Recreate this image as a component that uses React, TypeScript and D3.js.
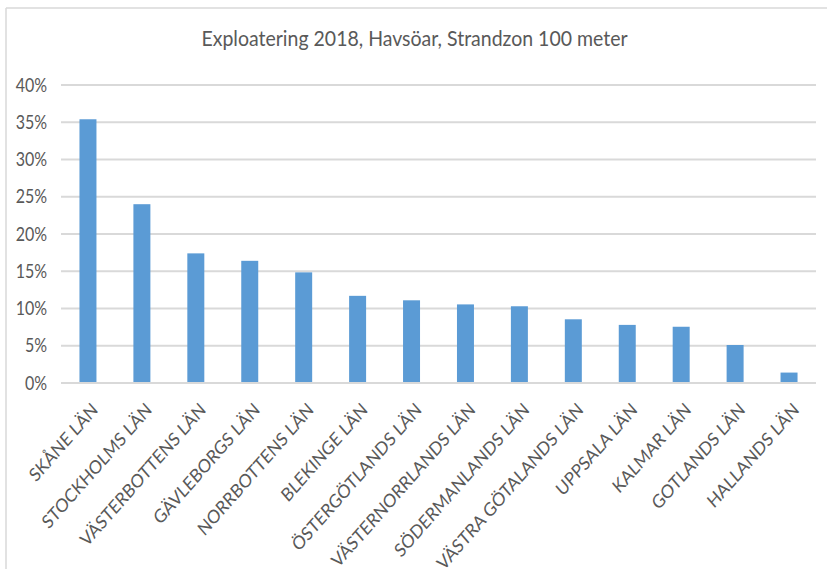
import React from "react";
import * as d3 from "d3";

const categories = [
  "SKÅNE LÄN",
  "STOCKHOLMS LÄN",
  "VÄSTERBOTTENS LÄN",
  "GÄVLEBORGS LÄN",
  "NORRBOTTENS LÄN",
  "BLEKINGE LÄN",
  "ÖSTERGÖTLANDS LÄN",
  "VÄSTERNORRLANDS LÄN",
  "SÖDERMANLANDS LÄN",
  "VÄSTRA GÖTALANDS LÄN",
  "UPPSALA LÄN",
  "KALMAR LÄN",
  "GOTLANDS LÄN",
  "HALLANDS LÄN",
];
const values = [35.4, 24.0, 17.4, 16.4, 14.85, 11.7, 11.1, 10.55, 10.3, 8.55, 7.8, 7.55, 5.1, 1.4];
const yTicks = [0, 5, 10, 15, 20, 25, 30, 35, 40];
const title = "Exploatering 2018, Havsöar, Strandzon 100 meter";

const W = 827;
const H = 569;
const FONT = "Lato, 'Open Sans', sans-serif";
const TEXT = "#595959";
const GRID = "#d9d9d9";
const BAR = "#5b9bd5";
const STRETCH = 1.14;

export default function App() {
  const plotLeft = 61;
  const plotRight = 816;
  const y0 = 383;
  const yTop = 85;
  const x = d3
    .scaleBand<string>()
    .domain(categories)
    .range([plotLeft, plotRight])
    .paddingInner(0.685)
    .paddingOuter(0.3425);
  const y = d3.scaleLinear().domain([0, 40]).range([y0, yTop]);

  return (
    <svg
      width={W}
      height={H}
      style={{ position: "absolute", left: 0, top: 0, background: "#fff" }}
    >
      <rect x={0} y={0} width={W} height={H} fill="#fff" />
      <line x1={6} y1={8} x2={W} y2={8} stroke={GRID} strokeWidth={1.5} />
      <line x1={6} y1={8} x2={6} y2={H} stroke={GRID} strokeWidth={1.5} />
      <text
        transform={`translate(414.5,46) scale(1,1.05)`}
        textAnchor="middle"
        fontFamily={FONT}
        fontSize={19.5}
        fill={TEXT}
      >
        {title}
      </text>
      {yTicks.map((t) => (
        <g key={t}>
          <line
            x1={plotLeft}
            x2={plotRight}
            y1={y(t)}
            y2={y(t)}
            stroke={GRID}
            strokeWidth={2}
          />
          <text
            transform={`translate(47,${y(t)}) scale(1,${STRETCH})`}
            dy="0.36em"
            textAnchor="end"
            fontFamily={FONT}
            fontSize={16}
            fill={TEXT}
          >
            {t}%
          </text>
        </g>
      ))}
      {categories.map((c, i) => (
        <rect
          key={c}
          x={x(c)!}
          y={y(values[i])}
          width={x.bandwidth()}
          height={y0 - 1 - y(values[i])}
          fill={BAR}
        />
      ))}
      {categories.map((c) => {
        const cx = x(c)! + x.bandwidth() / 2;
        return (
          <text
            key={c}
            transform={`translate(${cx + 11},${411}) scale(1,${STRETCH}) rotate(-45)`}
            textAnchor="end"
            fontFamily={FONT}
            fontSize={16.4}
            fill={TEXT}
          >
            {c}
          </text>
        );
      })}
    </svg>
  );
}
